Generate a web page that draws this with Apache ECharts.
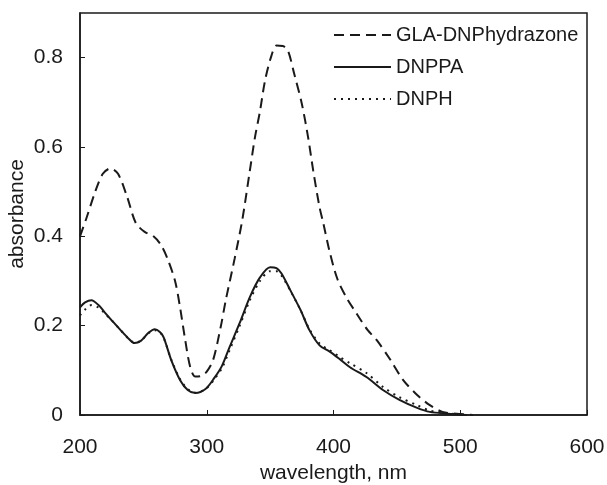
<!DOCTYPE html>
<html>
<head>
<meta charset="utf-8">
<script src="https://cdn.jsdelivr.net/npm/echarts@6/dist/echarts.min.js"></script>
<style>
  html, body { margin: 0; padding: 0; background: #fff; }
  #chart { width: 607px; height: 485px; }
</style>
</head>
<body>
<div id="chart"></div>
<script>
// wavelength (nm) / absorbance
const glaX = [200, 205, 212, 218, 224, 230, 237, 244, 251, 258, 264, 269, 275, 279, 283, 287, 291, 296, 300, 305, 311, 315, 322, 328, 334, 338, 342, 346, 351, 355, 360, 364, 369, 375, 380, 384, 389, 392, 397, 403, 410, 418, 427, 434, 445, 455, 466, 476, 486, 497, 510];
const glaY = [0.40, 0.44, 0.50, 0.54, 0.552, 0.54, 0.49, 0.43, 0.41, 0.40, 0.38, 0.35, 0.30, 0.24, 0.168, 0.107, 0.086, 0.088, 0.097, 0.123, 0.197, 0.257, 0.35, 0.436, 0.547, 0.621, 0.68, 0.749, 0.804, 0.827, 0.826, 0.816, 0.764, 0.697, 0.621, 0.547, 0.465, 0.429, 0.365, 0.305, 0.264, 0.228, 0.19, 0.168, 0.123, 0.078, 0.045, 0.022, 0.007, 0.003, 0];

const dnppaX = [200, 204, 209, 215, 220, 225, 232, 238, 243, 248, 254, 259, 263, 266, 272, 279, 285, 291, 299, 306, 312, 318, 326, 334, 342, 350, 355, 359, 366, 374, 381, 389, 397, 405, 413, 426, 439, 452, 466, 476, 490, 505];
const dnppaY = [0.241, 0.252, 0.257, 0.245, 0.228, 0.212, 0.19, 0.172, 0.161, 0.166, 0.184, 0.192, 0.186, 0.174, 0.123, 0.078, 0.056, 0.049, 0.058, 0.083, 0.11, 0.152, 0.206, 0.264, 0.308, 0.331, 0.329, 0.317, 0.279, 0.235, 0.19, 0.156, 0.142, 0.125, 0.107, 0.085, 0.056, 0.034, 0.016, 0.007, 0.003, 0];

const dnphX = [200, 204, 209, 215, 220, 225, 232, 238, 243, 248, 254, 259, 263, 266, 272, 279, 285, 291, 299, 306, 312, 318, 326, 334, 342, 350, 355, 359, 366, 374, 381, 389, 397, 405, 413, 426, 439, 452, 466, 476, 490, 505];
const dnphY = [0.223, 0.236, 0.246, 0.24, 0.226, 0.212, 0.19, 0.172, 0.162, 0.166, 0.183, 0.19, 0.185, 0.173, 0.124, 0.08, 0.058, 0.05, 0.058, 0.08, 0.105, 0.145, 0.2, 0.257, 0.3, 0.322, 0.322, 0.312, 0.278, 0.235, 0.192, 0.16, 0.145, 0.13, 0.116, 0.094, 0.063, 0.04, 0.022, 0.01, 0.004, 0];

const seriesNames = ['GLA-DNPhydrazone', 'DNPPA', 'DNPH'];

const zip = (xs, ys) => xs.map((x, i) => [x, ys[i]]);
const ink = '#1a1a1a';
const font = '"Liberation Sans", Arial, sans-serif';

const chart = echarts.init(document.getElementById('chart'));

chart.setOption({
  backgroundColor: '#fff',
  animation: false,
  grid: { left: 80, right: 20, top: 13, bottom: 70, show: true, borderColor: ink, borderWidth: 1.5, outerBoundsMode: 'none', containLabel: false },
  legend: {
    orient: 'vertical',
    left: 328,
    top: 20,
    itemWidth: 57,
    itemHeight: 16,
    itemGap: 12,
    itemStyle: { color: 'transparent', borderColor: 'transparent', borderWidth: 0 },
    textStyle: { fontFamily: font, fontSize: 20, color: ink },
    data: seriesNames,
  },
  xAxis: {
    type: 'value',
    min: 200,
    max: 600,
    interval: 100,
    name: 'wavelength, nm',
    nameLocation: 'middle',
    nameGap: 48,
    nameMoveOverlap: false,
    nameTextStyle: { fontFamily: font, fontSize: 21, color: ink },
    axisLine: { lineStyle: { color: ink, width: 1.5 } },
    axisTick: { inside: true, length: 5, lineStyle: { color: ink } },
    axisLabel: { fontFamily: font, fontSize: 21, color: ink, margin: 22 },
    splitLine: { show: false },
  },
  yAxis: {
    type: 'value',
    min: 0,
    max: 0.9,
    interval: 0.2,
    name: 'absorbance',
    nameLocation: 'middle',
    nameGap: 52,
    nameMoveOverlap: false,
    nameTextStyle: { fontFamily: font, fontSize: 21, color: ink },
    axisLine: { lineStyle: { color: ink, width: 1.5 } },
    axisTick: { inside: true, length: 5, lineStyle: { color: ink } },
    axisLabel: { fontFamily: font, fontSize: 21, color: ink, margin: 17, showMaxLabel: false },
    splitLine: { show: false },
  },
  series: [
    {
      name: seriesNames[0],
      type: 'line',
      data: zip(glaX, glaY),
      smooth: 0.3,
      symbol: 'none',
      itemStyle: { color: ink },
      lineStyle: { color: ink, width: 2, type: [10, 6] },
    },
    {
      name: seriesNames[1],
      type: 'line',
      data: zip(dnppaX, dnppaY),
      smooth: 0.3,
      symbol: 'none',
      itemStyle: { color: ink },
      lineStyle: { color: ink, width: 2, type: 'solid' },
    },
    {
      name: seriesNames[2],
      type: 'line',
      data: zip(dnphX, dnphY),
      smooth: 0.3,
      symbol: 'none',
      itemStyle: { color: ink },
      lineStyle: { color: ink, width: 2, type: [2, 5] },
    },
  ],
});
</script>
</body>
</html>
